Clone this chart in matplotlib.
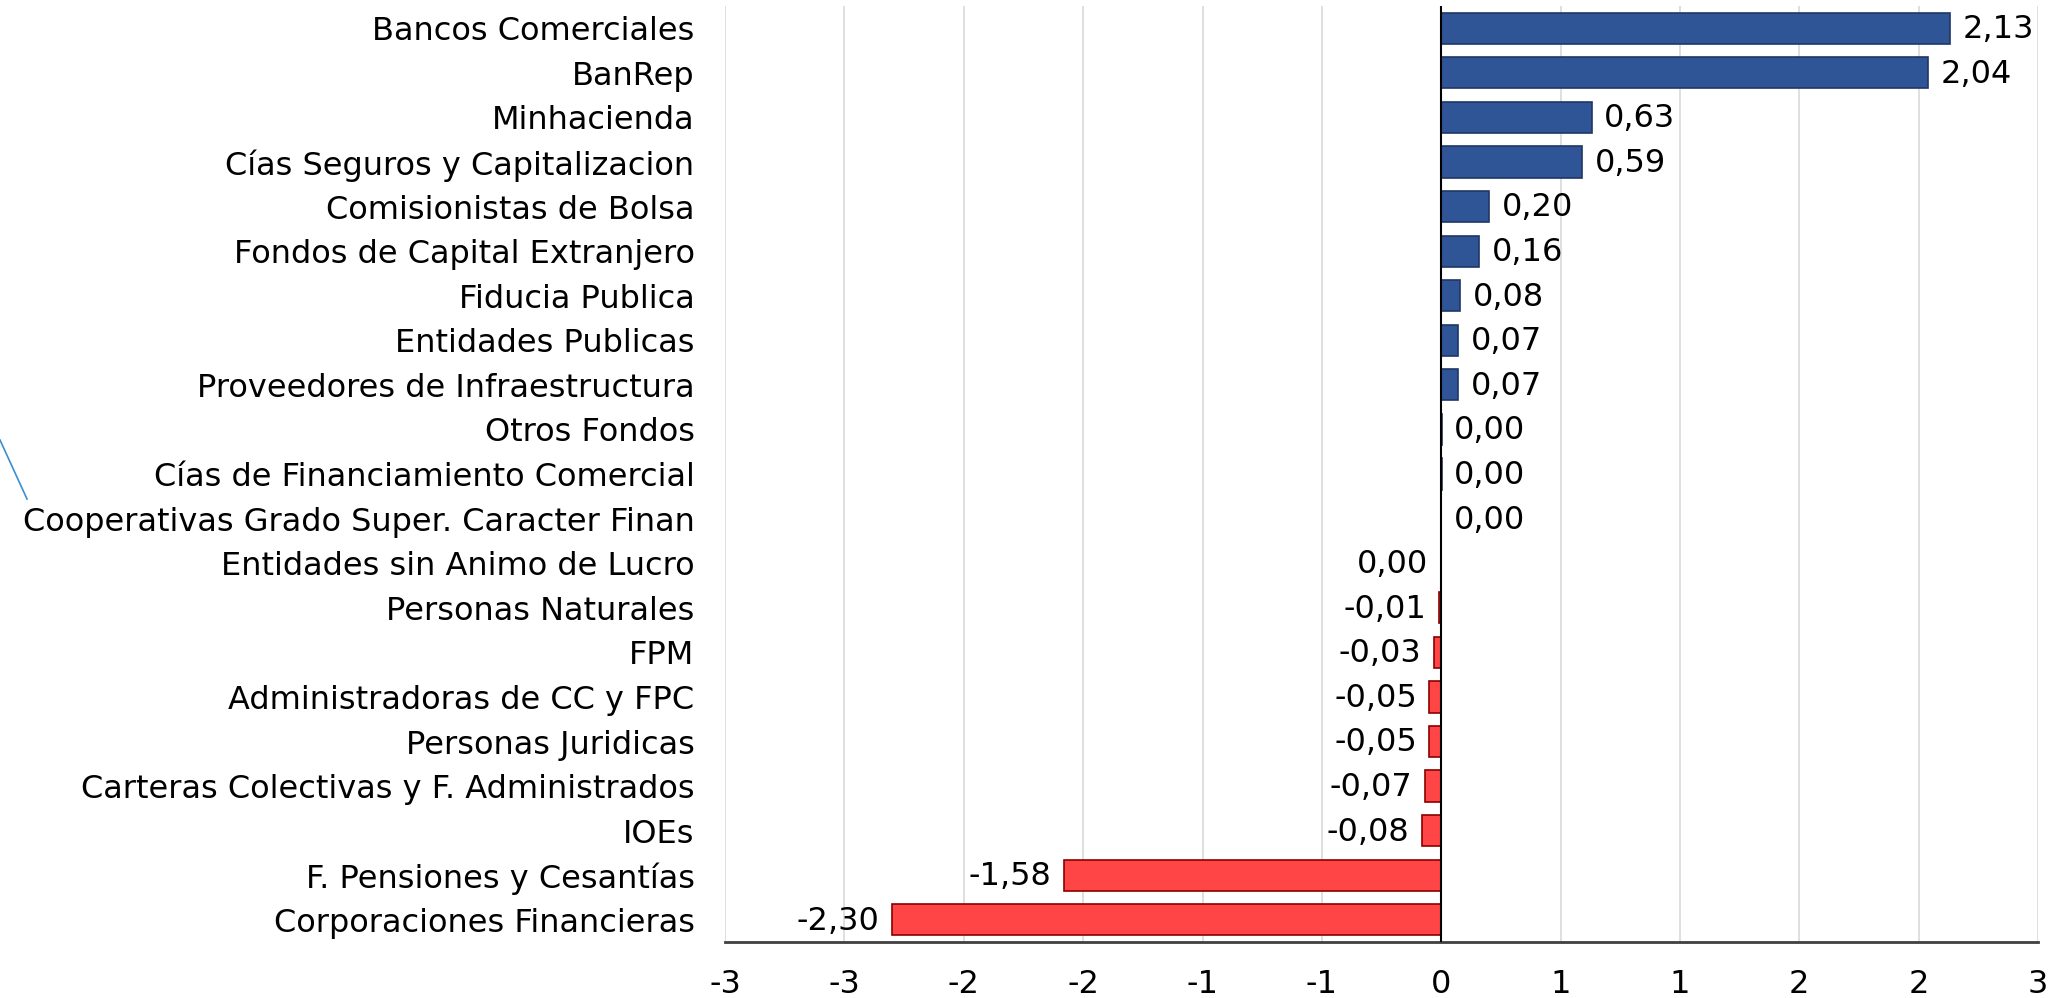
import matplotlib
matplotlib.use('Agg')
import matplotlib.pyplot as plt
from matplotlib.lines import Line2D
import numpy as np

categories = ['Bancos Comerciales', 'BanRep', 'Minhacienda', 'Cías Seguros y Capitalizacion',
              'Comisionistas de Bolsa', 'Fondos de Capital Extranjero', 'Fiducia Publica',
              'Entidades Publicas', 'Proveedores de Infraestructura', 'Otros Fondos',
              'Cías de Financiamiento Comercial', 'Cooperativas Grado Super. Caracter Finan',
              'Entidades sin Animo de Lucro', 'Personas Naturales', 'FPM',
              'Administradoras de CC y FPC', 'Personas Juridicas',
              'Carteras Colectivas y F. Administrados', 'IOEs',
              'F. Pensiones y Cesantías', 'Corporaciones Financieras']
values = [2.13, 2.04, 0.63, 0.59, 0.20, 0.16, 0.08, 0.07, 0.07, 0.002, 0.002, 0.0,
          -0.002, -0.01, -0.03, -0.05, -0.05, -0.07, -0.08, -1.58, -2.30]
xticks = [-3, -2.5, -2, -1.5, -1, -0.5, 0, 0.5, 1, 1.5, 2, 2.5]
xtick_labels = ['-3', '-3', '-2', '-2', '-1', '-1', '0', '1', '1', '2', '2', '3']

blue, blue_edge = '#2F5597', '#1F3864'
red, red_edge = '#FF4545', '#8B0000'

fig = plt.figure(figsize=(20.57, 9.98), dpi=100)
ax = fig.add_axes([0.3525, 0.056, 0.6383, 0.938])

y = np.arange(len(categories))
vals = np.array(values)
# zero values above the "sin Animo de Lucro" row count as positive
positive = [v > 0 or (v == 0 and i <= 11) for i, v in enumerate(vals)]
colors = [blue if p else red for p in positive]
edges = [blue_edge if p else red_edge for p in positive]
ax.barh(y, vals, height=0.7, color=colors, edgecolor=edges, linewidth=1.2, zorder=3)

fs = 23
for i, v in enumerate(vals):
    txt = f'{abs(v):.2f}'.replace('.', ',')
    if round(v, 2) < 0:
        txt = '-' + txt
    if positive[i]:
        ax.annotate(txt, (v, i), xytext=(9, -1), textcoords='offset points',
                    ha='left', va='center', fontsize=fs)
    else:
        ax.annotate(txt, (v, i), xytext=(-9, -1), textcoords='offset points',
                    ha='right', va='center', fontsize=fs)

ax.set_xlim(-3, 2.5)
ax.set_ylim(len(categories) - 0.5, -0.5)
ax.set_xticks(xticks)
ax.set_xticklabels(xtick_labels, fontsize=fs)
ax.set_yticks(y)
ax.set_yticklabels(categories, fontsize=fs)
ax.tick_params(axis='x', length=0, pad=19)
ax.tick_params(axis='y', length=0, pad=22)
ax.grid(axis='x', color='#D9D9D9', linewidth=1.2, zorder=0)
ax.axvline(0, color='black', linewidth=1.5, zorder=4)
for s in ['top', 'right', 'left']:
    ax.spines[s].set_visible(False)
ax.spines['bottom'].set_color('#404040')
ax.spines['bottom'].set_linewidth(2)

# stray leader line at the left edge
fig.add_artist(Line2D([0.0, 27 / 2057], [1 - 440 / 998, 1 - 499 / 998],
                      color='#3A8FD0', linewidth=1.2))

plt.savefig('out.png', dpi=100)
